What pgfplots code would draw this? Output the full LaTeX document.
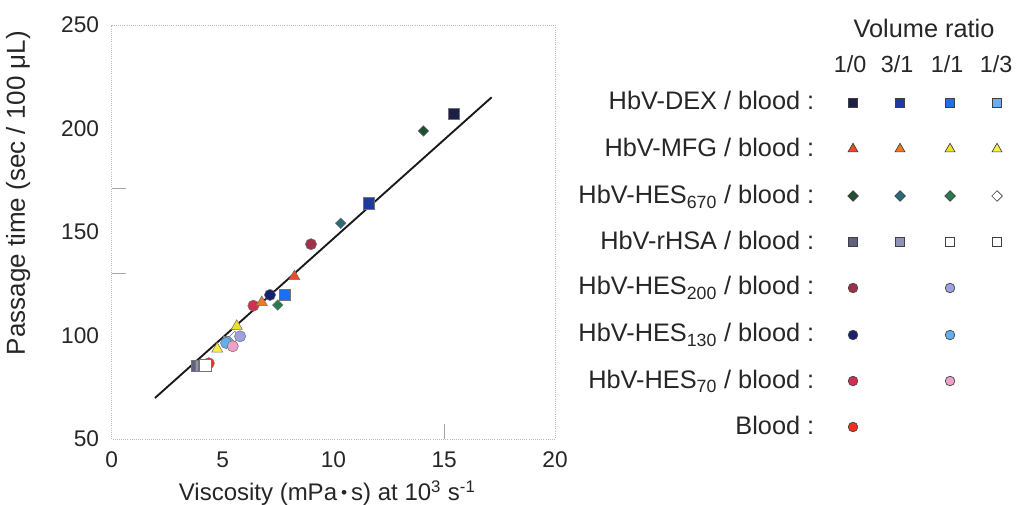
\documentclass[border=0pt]{standalone}
\usepackage{pgfplots}
\pgfplotsset{compat=1.18}
\usepackage{fontspec}
\setmainfont{Liberation Sans}
\definecolor{dexA}{HTML}{1B1F45}
\definecolor{dexB}{HTML}{1F3A9E}
\definecolor{dexC}{HTML}{1E6FF0}
\definecolor{dexD}{HTML}{6AAEF0}
\definecolor{mfgA}{HTML}{F04A20}
\definecolor{mfgB}{HTML}{F07A20}
\definecolor{mfgC}{HTML}{F0E020}
\definecolor{mfgD}{HTML}{F8F040}
\definecolor{hesA}{HTML}{1F4F33}
\definecolor{hesB}{HTML}{2A6A7A}
\definecolor{hesC}{HTML}{2A7A4F}
\definecolor{rhsA}{HTML}{606080}
\definecolor{rhsB}{HTML}{9090B8}
\definecolor{hTwoA}{HTML}{A0304A}
\definecolor{hTwoB}{HTML}{A0A0E0}
\definecolor{hOneA}{HTML}{1A2070}
\definecolor{hOneB}{HTML}{60B0F0}
\definecolor{hSevA}{HTML}{D03050}
\definecolor{hSevB}{HTML}{F0A0C8}
\definecolor{bld}{HTML}{F03020}
\pgfplotsset{
  sq/.style={only marks, mark=square*, mark size=4.2pt, mark options={fill=#1, draw=black!55, line width=0.4pt}},
  tri/.style={only marks, mark=triangle*, mark size=4.8pt, mark options={fill=#1, draw=black!55, line width=0.4pt}},
  dia/.style={only marks, mark=square*, mark size=2.8pt, mark options={rotate=45, fill=#1, draw=black!55, line width=0.4pt}},
  cir/.style={only marks, mark=*, mark size=4.2pt, mark options={fill=#1, draw=black!55, line width=0.4pt}},
  lsq/.style={only marks, mark=square*, mark size=3.6pt, mark options={fill=#1, draw=black!75, line width=0.5pt}},
  ltri/.style={only marks, mark=triangle*, mark size=4.3pt, mark options={fill=#1, draw=black!75, line width=0.5pt}},
  ldia/.style={only marks, mark=square*, mark size=2.8pt, mark options={rotate=45, fill=#1, draw=black!75, line width=0.5pt}},
  lcir/.style={only marks, mark=*, mark size=3.6pt, mark options={fill=#1, draw=black!75, line width=0.5pt}},
}
\newcommand{\lf}{\fontsize{19}{22}\selectfont}
\newcommand{\hf}{\fontsize{17.5}{21}\selectfont}
\begin{document}
\begin{tikzpicture}
\useasboundingbox (0,0) rectangle (762pt,378.75pt);
\begin{axis}[
  at={(83.8pt,49.5pt)}, anchor=south west, scale only axis,
  width=332.5pt, height=310.5pt,
  xmin=0, xmax=20, ymin=50, ymax=250,
  xtick={0,5,10,15,20}, ytick={50,100,150,200,250},
  xtick pos=bottom, ytick pos=left,
  axis line style={gray!55, densely dotted, line width=0.6pt},
  major tick length=0pt,
  extra y ticks={130,171}, extra y tick labels={},
  extra x ticks={15}, extra x tick labels={},
  extra tick style={major tick length=11pt, tick style={gray!70, line width=0.6pt}},
  /pgf/number format/assume math mode=true,
  tick label style={font=\fontsize{17}{20}\selectfont, text=black!85},
  xticklabel style={yshift=-6pt},
  yticklabel style={xshift=-6pt},
  xlabel={Viscosity (mPa\,\raisebox{0.12ex}{\fontsize{13}{13}\selectfont •}\,s) at 10\textsuperscript{3} s\textsuperscript{-1}},
  ylabel={Passage time (sec / 100 μL)},
  every axis x label/.style={at={(axis description cs:0.486,-0.130)}, anchor=center, font=\fontsize{18}{21}\selectfont, text=black!85},
  every axis y label/.style={at={(axis description cs:-0.211,0.594)}, anchor=center, rotate=90, font=\fontsize{19.5}{22}\selectfont, text=black!85},
]
\addplot[black!90, line width=1.4pt] coordinates {(1.95,69.8) (17.14,215.1)};
\addplot[cir=bld] coordinates {(4.38,86.6)};
\addplot[sq=rhsA] coordinates {(3.83,85.3)};
\addplot[sq=rhsB] coordinates {(4.0,85.3)};
\addplot[sq=white] coordinates {(4.15,85.5)};
\addplot[sq=white] coordinates {(4.22,85.6)};
\addplot[sq=dexD] coordinates {(5.3,97.0)};
\addplot[dia=white] coordinates {(5.55,99.5)};
\addplot[cir=hTwoB] coordinates {(5.79,99.6)};
\addplot[cir=hOneB] coordinates {(5.16,96.4)};
\addplot[cir=hSevB] coordinates {(5.46,94.8)};
\addplot[tri=mfgD] coordinates {(4.76,93.5)};
\addplot[tri=mfgC] coordinates {(5.64,104.5)};
\addplot[cir=hSevA] coordinates {(6.39,114.4)};
\addplot[tri=mfgB] coordinates {(6.77,116.0)};
\addplot[dia=hesC] coordinates {(7.49,114.7)};
\addplot[sq=dexC] coordinates {(7.82,119.6)};
\addplot[cir=hOneA] coordinates {(7.14,119.6)};
\addplot[tri=mfgA] coordinates {(8.24,128.5)};
\addplot[cir=hTwoA] coordinates {(8.99,144.1)};
\addplot[dia=hesB] coordinates {(10.33,154.2)};
\addplot[sq=dexB] coordinates {(11.58,163.9)};
\addplot[dia=hesA] coordinates {(14.06,198.8)};
\addplot[sq=dexA] coordinates {(15.44,207.3)};
\end{axis}
\begin{axis}[
  at={(0pt,0pt)}, anchor=south west, scale only axis,
  width=762pt, height=378.75pt,
  xmin=0, xmax=1016, ymin=0, ymax=505, y dir=reverse,
  hide axis, clip=false,
]
\node[anchor=base, font=\lf, text=black!85] at (axis cs:924,38) {Volume ratio};
\node[anchor=base, font=\hf, text=black!85] at (axis cs:850,73) {1/0};
\node[anchor=base, font=\hf, text=black!85] at (axis cs:897,73) {3/1};
\node[anchor=base, font=\hf, text=black!85] at (axis cs:947,73) {1/1};
\node[anchor=base, font=\hf, text=black!85] at (axis cs:996,73) {1/3};
\node[anchor=base east, font=\lf, text=black!85] at (axis cs:819,110) {HbV-DEX / blood :};
\node[anchor=base east, font=\lf, text=black!85] at (axis cs:819,157) {HbV-MFG / blood :};
\node[anchor=base east, font=\lf, text=black!85] at (axis cs:819,204) {HbV-HES\textsubscript{670} / blood :};
\node[anchor=base east, font=\lf, text=black!85] at (axis cs:819,250) {HbV-rHSA / blood :};
\node[anchor=base east, font=\lf, text=black!85] at (axis cs:819,295) {HbV-HES\textsubscript{200} / blood :};
\node[anchor=base east, font=\lf, text=black!85] at (axis cs:819,342) {HbV-HES\textsubscript{130} / blood :};
\node[anchor=base east, font=\lf, text=black!85] at (axis cs:819,388) {HbV-HES\textsubscript{70} / blood :};
\node[anchor=base east, font=\lf, text=black!85] at (axis cs:819,434) {Blood :};
\addplot[lsq=dexA] coordinates {(853,103)};
\addplot[lsq=dexB] coordinates {(900,103)};
\addplot[lsq=dexC] coordinates {(950,103)};
\addplot[lsq=dexD] coordinates {(997,103)};
\addplot[ltri=mfgA] coordinates {(853,149)};
\addplot[ltri=mfgB] coordinates {(900,149)};
\addplot[ltri=mfgC] coordinates {(950,149)};
\addplot[ltri=mfgD] coordinates {(997,149)};
\addplot[ldia=hesA] coordinates {(853,196)};
\addplot[ldia=hesB] coordinates {(900,196)};
\addplot[ldia=hesC] coordinates {(950,196)};
\addplot[ldia=white] coordinates {(997,196)};
\addplot[lsq=rhsA] coordinates {(853,242)};
\addplot[lsq=rhsB] coordinates {(900,242)};
\addplot[lsq=white] coordinates {(950,242)};
\addplot[lsq=white] coordinates {(997,242)};
\addplot[lcir=hTwoA] coordinates {(853,288)};
\addplot[lcir=hTwoB] coordinates {(950,288)};
\addplot[lcir=hOneA] coordinates {(853,335)};
\addplot[lcir=hOneB] coordinates {(950,335)};
\addplot[lcir=hSevA] coordinates {(853,381)};
\addplot[lcir=hSevB] coordinates {(950,381)};
\addplot[lcir=bld] coordinates {(853,427)};
\end{axis}
\end{tikzpicture}
\end{document}
